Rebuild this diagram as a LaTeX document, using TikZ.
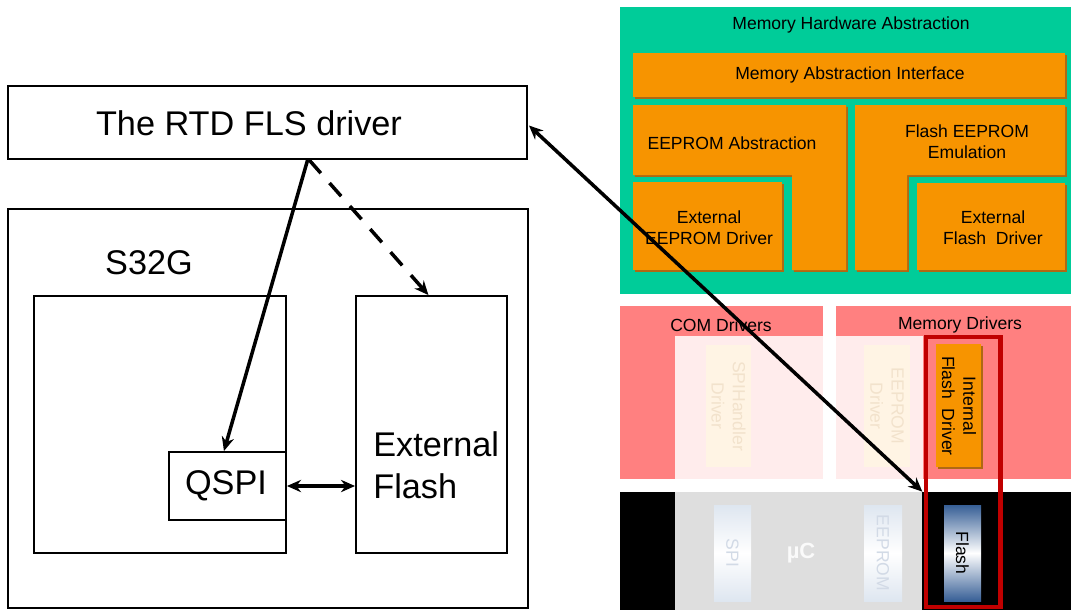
\documentclass[tikz,border=0pt]{standalone}
\usepackage{fontspec}
\setmainfont{Liberation Sans}
\usetikzlibrary{arrows.meta,fit,calc,shadows}
\definecolor{hwgreen}{RGB}{0,204,153}
\definecolor{autorange}{RGB}{247,148,0}
\definecolor{orshadow}{RGB}{175,105,20}
\definecolor{drvpink}{RGB}{255,128,128}
\definecolor{fadepink}{RGB}{255,236,236}
\definecolor{fadegray}{RGB}{222,222,222}
\definecolor{fadecream}{RGB}{255,244,228}
\definecolor{fadetext}{RGB}{242,226,204}
\definecolor{fadeblue}{RGB}{222,230,240}
\definecolor{fadebluetext}{RGB}{210,218,230}
\definecolor{flashblue}{RGB}{55,95,150}
\definecolor{redframe}{RGB}{192,0,0}
\begin{document}
\begin{tikzpicture}[x=0.02cm,y=-0.02cm,
  box/.style={draw=black, line width=1.1pt, inner sep=0pt},
  bigtxt/.style={font=\fontsize{19.5}{23.8}\selectfont, inner sep=0pt},
  smalltxt/.style={font=\fontsize{10}{12}\selectfont, text=black, align=center, inner sep=0pt},
  obox/.style={fill=autorange, draw=none, drop shadow={shadow xshift=1.1pt, shadow yshift=-1.1pt, fill=orshadow, opacity=1}},
  conn/.style={line width=2pt, -{Stealth[length=8pt,width=7pt]}},
  biconn/.style={line width=2pt, {Stealth[length=8pt,width=7pt]}-{Stealth[length=8pt,width=7pt]}},
  fadebox/.style={fill=fadecream, draw=none},
  rottxt/.style={smalltxt, rotate=-90}
]
\useasboundingbox (0,0) rectangle (1071,610);

% ---------------- right side: AUTOSAR layers ----------------
\fill[hwgreen] (620,7) rectangle (1071,294);
\node[smalltxt] (mha) at (851,25) {Memory Hardware Abstraction};

\fill[obox] (633,53) rectangle (1065,97);
\node[smalltxt] (mai) at (850,75) {Memory Abstraction Interface};

\fill[obox] (633,105) -- (846,105) -- (846,270) -- (792,270) -- (792,175) -- (633,175) -- cycle;
\node[smalltxt] (eea) at (732,143) {EEPROM Abstraction};

\fill[obox] (633,182) rectangle (782,270);
\node[smalltxt] (eed) at (709,228) {External\\EEPROM Driver};

\fill[obox] (855,105) -- (1065,105) -- (1065,175) -- (907,175) -- (907,270) -- (855,270) -- cycle;
\node[smalltxt] (fee) at (967,142) {Flash EEPROM\\Emulation};

\fill[obox] (917,183) rectangle (1065,270);
\node[smalltxt] (efd) at (993,228) {External\\Flash\ \ Driver};

% driver layer
\fill[drvpink] (620,306) rectangle (823,479);
\fill[drvpink] (836,306) rectangle (1071,479);
\fill[fadepink] (675,336) rectangle (823,479);
\fill[fadepink] (836,336) rectangle (923,479);
\node[smalltxt] (comd) at (721,325) {COM Drivers};
\node[smalltxt] (memd) at (960,325) {Memory Drivers};

\fill[fadebox] (706,345) rectangle (751,467);
\node[rottxt, text=fadetext] (spih) at (728.5,406) {SPIHandler\\Driver};
\fill[fadebox] (864,345) rectangle (910,467);
\node[rottxt, text=fadetext] (eepd) at (887,406) {EEPROM\\Driver};

\fill[obox] (936,344) rectangle (981,467);
\node[rottxt] (ifd) at (959,406) {Internal\\Flash\ \ Driver};

% microcontroller layer
\fill[black] (620,492) rectangle (1071,610);
\node[fill=fadegray, inner sep=0pt, fit={(675,492) (922,610)}] (mcu) {};
\shade[top color=fadeblue, bottom color=fadeblue, middle color=white] (714,505) rectangle (751,601);
\node[rottxt, text=fadebluetext] (spi) at (732.5,553) {SPI};
\node[font=\bfseries\fontsize{12.5}{14}\selectfont, text=white!96!gray, inner sep=0pt] (uc) at (801,553) {µC};
\shade[top color=fadeblue, bottom color=fadeblue, middle color=white] (864,505) rectangle (902,601);
\node[rottxt, text=fadebluetext] (eep) at (883,553) {EEPROM};
\shade[top color=flashblue, bottom color=flashblue, middle color=white] (944,505) rectangle (981,601);
\node[rottxt] (fls) at (962.5,553) {Flash};

\draw[redframe, line width=2.6pt] (926,337) rectangle (1000.5,607);

% ---------------- left side ----------------
\node[box, fit={(8,86) (527,159)}] (rtd) {};
\node[bigtxt] (rtdlbl) at (249,123.5) {The RTD FLS driver};

\node[box, fit={(8,209) (528,608)}] (s32g) {};
\node[bigtxt] (s32glbl) at (149,263) {S32G};

\node[box, fit={(34,296) (286,553)}] (core) {};
\node[box, fill=white, bigtxt, fit={(169,452) (286,520)}] (qspi) {};
\node[bigtxt] (qspilbl) at (226,486) {QSPI};

\node[box, fit={(356,296) (507,553)}] (extflash) {};
\node[bigtxt, align=left, anchor=west] (extlbl) at (373,465) {External\\Flash};

% connectors
\draw[conn] ($(rtd.south west)!0.577!(rtd.south east)$) -- ($(qspi.north west)!0.47!(qspi.north east)$);
\draw[conn, dash pattern=on 10pt off 7.5pt] ($(rtd.south west)!0.58!(rtd.south east)$) -- ($(extflash.north west)!0.48!(extflash.north east)$);
\draw[biconn] (qspi.east) -- (qspi.east -| extflash.west);
\draw[biconn] ($(rtd.east)+(1,3)$) -- (mcu.north east);
\end{tikzpicture}
\end{document}
